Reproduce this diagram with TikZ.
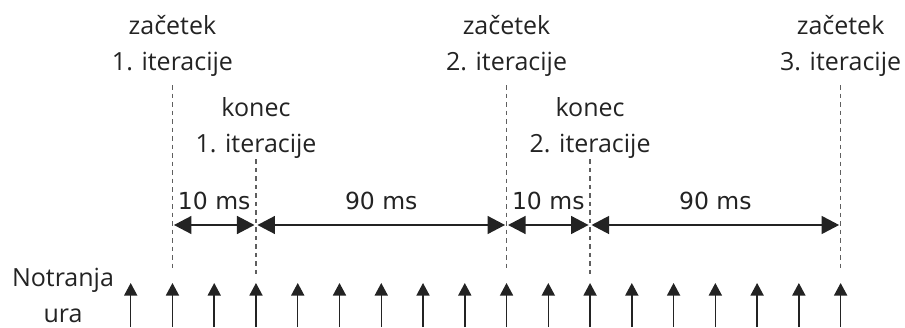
\documentclass[tikz,border=0pt]{standalone}
\usepackage{fontspec}
\setmainfont{Open Sans}
\newfontfamily\msfont{DejaVu Sans}
\usetikzlibrary{arrows.meta, positioning, calc}
\definecolor{inkcolor}{RGB}{35,35,35}
\definecolor{guidecolor}{RGB}{95,95,95}

\begin{document}
\begin{tikzpicture}[x=1pt, y=-1pt,
    lbl/.style={align=center, inner sep=0pt, text=inkcolor, font=\fontsize{25}{36}\selectfont},
    guide/.style={guidecolor, line width=1.3pt, dash pattern=on 4.5pt off 4pt},
    tick/.style={inkcolor, line width=1.5pt, -{Triangle[length=12.5pt,width=13pt]}},
    dim/.style={inkcolor, line width=1.4pt, {Triangle[length=17.5pt,width=18pt]}-{Triangle[length=17.5pt,width=18pt]}, shorten <=1.5pt, shorten >=1.5pt},
    dimlbl/.style={text=inkcolor, inner sep=0pt, anchor=base, yshift=16pt, font=\msfont\fontsize{23.5}{28}\selectfont}
]
    \useasboundingbox (0,0) rectangle (905,327);

    \foreach \i in {0,...,17} {
        \coordinate (b\i) at ({130.7+41.76*\i},327);
        \coordinate (t\i) at ({130.7+41.76*\i},283);
        \draw[tick] (b\i) -- (t\i);
    }
    \node[lbl] (ura) at (63,295) {Notranja\\ura};

    \node[lbl] (zac1) at (t1 |- 0,46.3) {začetek\\1. iteracije};
    \node[lbl] (zac2) at (t9 |- 0,46.3) {začetek\\2. iteracije};
    \node[lbl] (zac3) at (t17 |- 0,46.3) {začetek\\3. iteracije};
    \node[lbl] (kon1) at (t3 |- 0,127.7) {konec\\1. iteracije};
    \node[lbl] (kon2) at (t11 |- 0,127.7) {konec\\2. iteracije};

    \foreach \lab/\t in {zac1/t1, zac2/t9, zac3/t17} {
        \draw[guide, shorten <=8pt, shorten >=11pt] (\lab.south) -- (\t);
    }
    \foreach \lab/\t in {kon1/t3, kon2/t11} {
        \draw[guide, shorten <=1pt, shorten >=9pt] (\lab.south) -- (\t);
    }

    \coordinate (row) at (0,225);
    \draw[dim] (t1 |- row) -- (t3 |- row) node[dimlbl, midway] {10 ms};
    \draw[dim] (t3 |- row) -- (t9 |- row) node[dimlbl, midway] {90 ms};
    \draw[dim] (t9 |- row) -- (t11 |- row) node[dimlbl, midway] {10 ms};
    \draw[dim] (t11 |- row) -- (t17 |- row) node[dimlbl, midway] {90 ms};
\end{tikzpicture}
\end{document}
